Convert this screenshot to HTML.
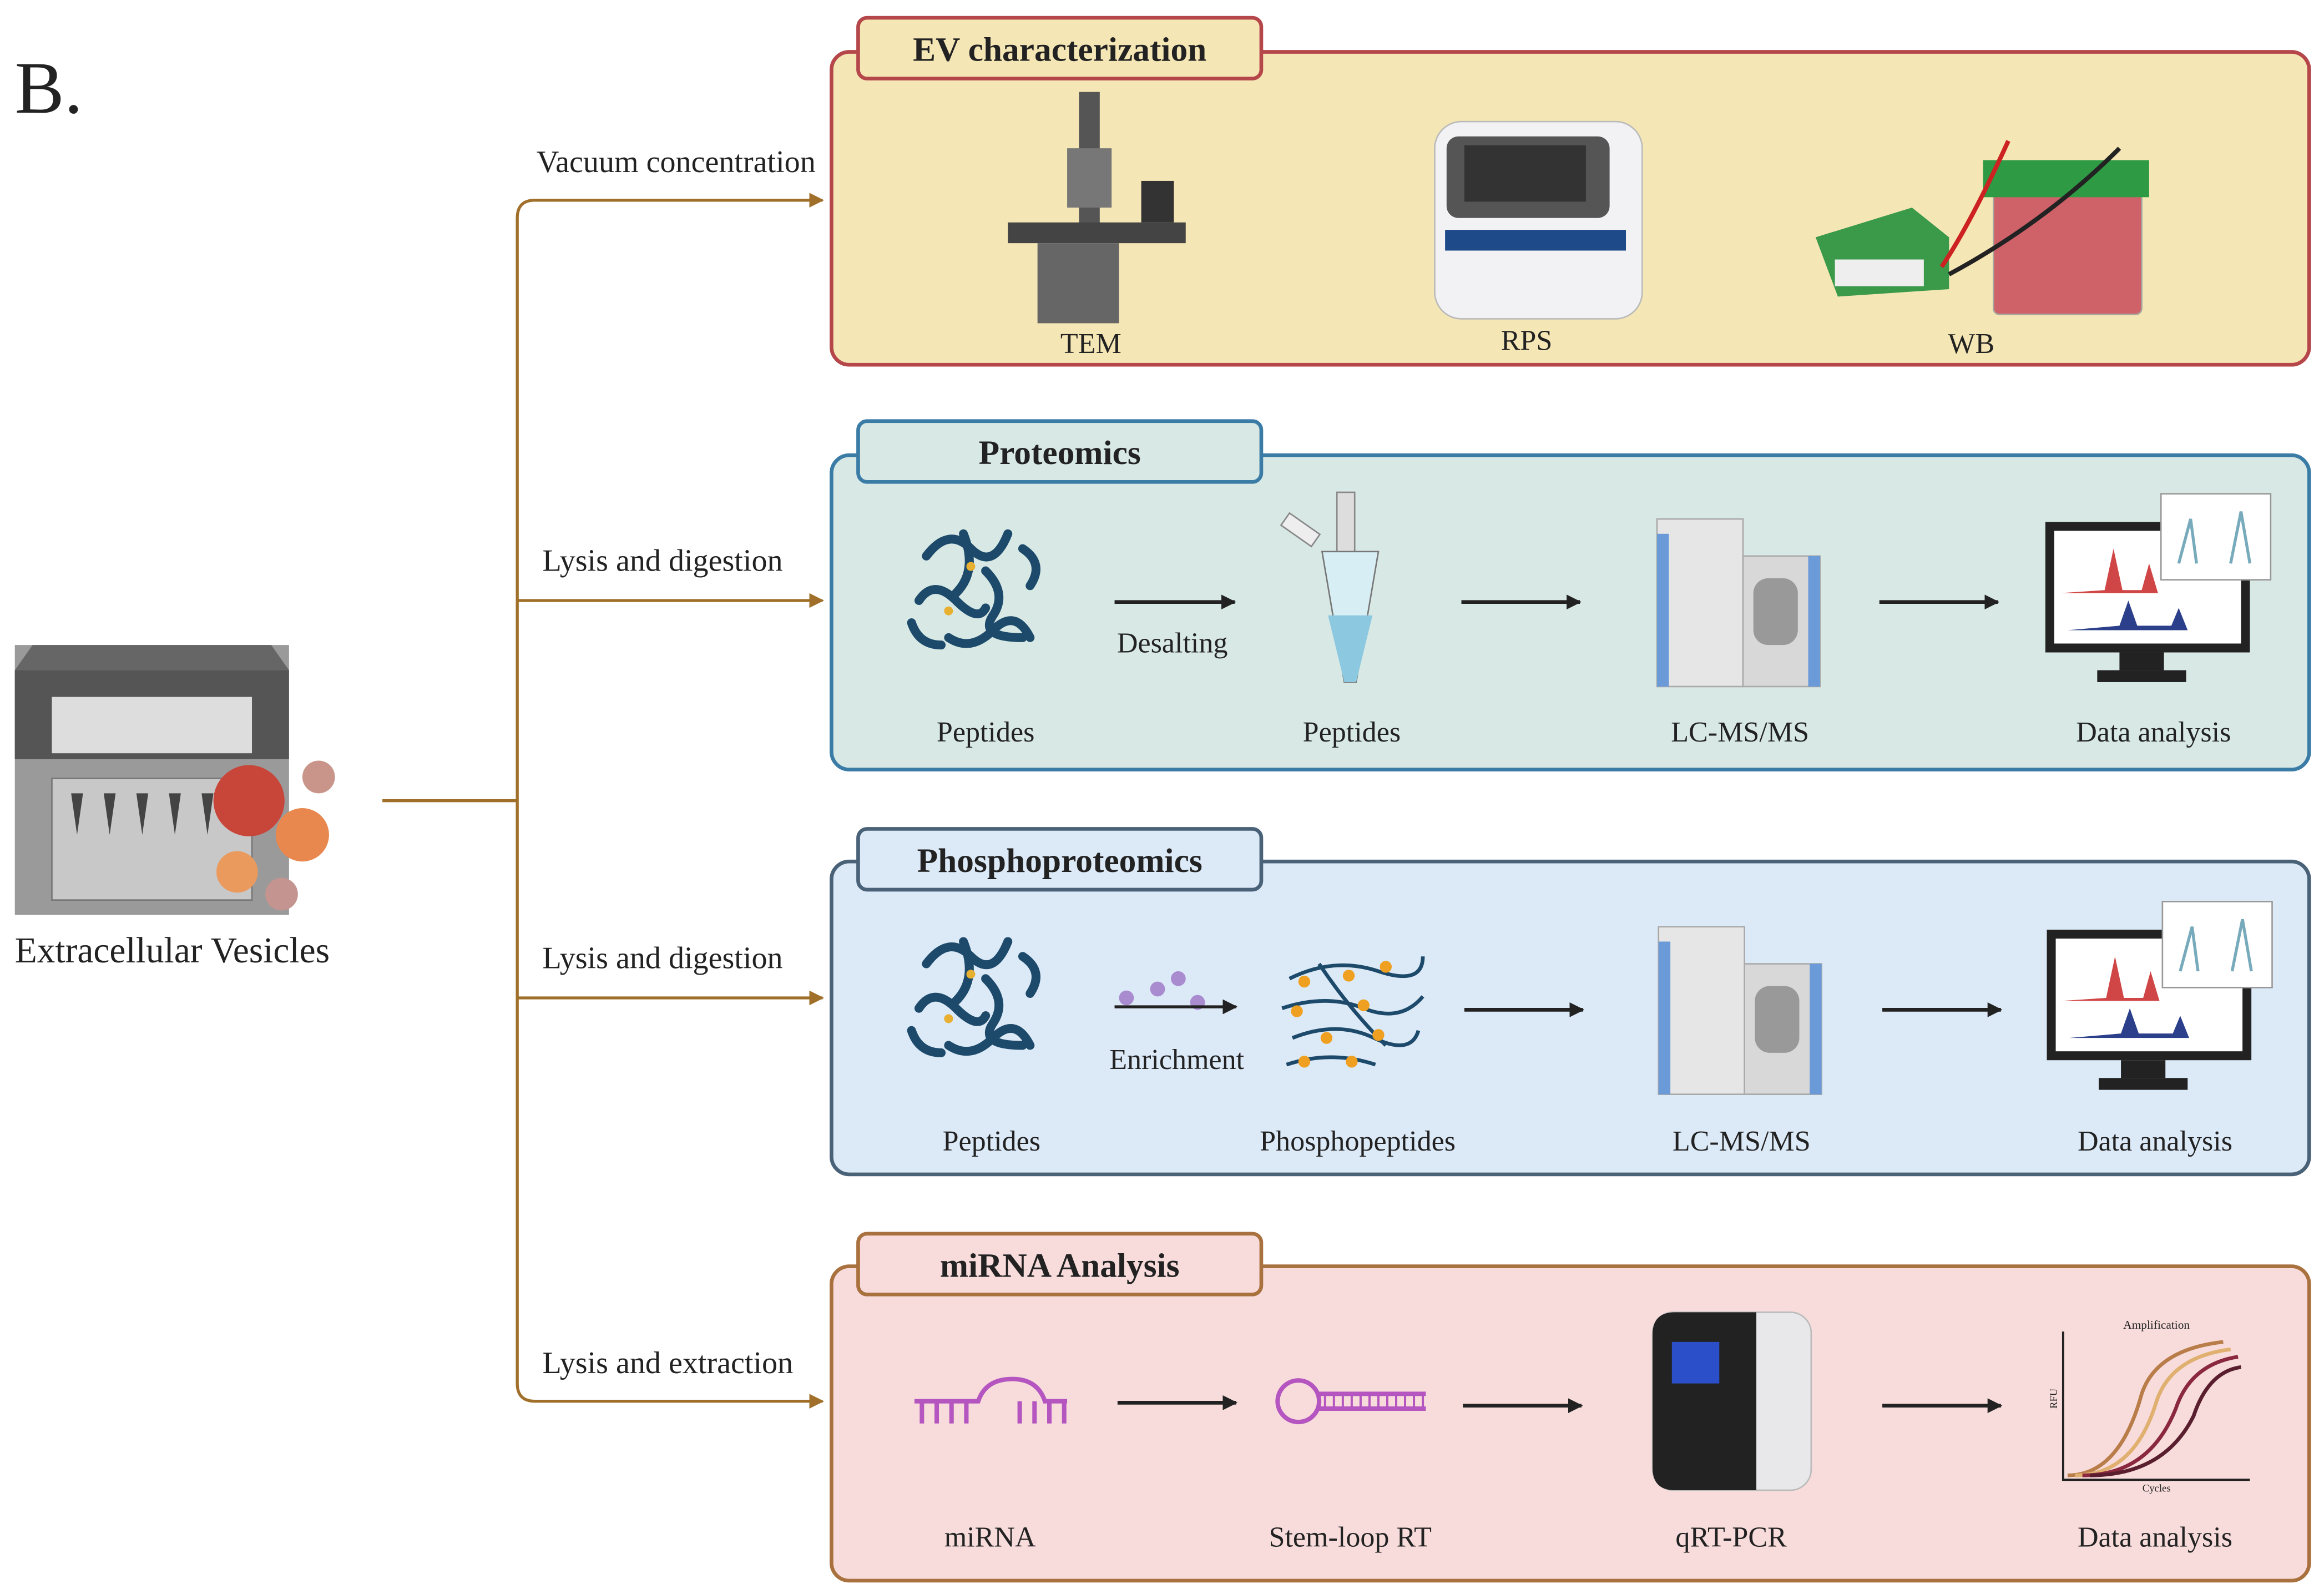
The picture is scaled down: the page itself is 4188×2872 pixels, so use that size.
<!DOCTYPE html>
<html><head><meta charset="utf-8"><style>
html,body{margin:0;padding:0;background:#fff;}
svg{display:block;}
text{font-family:"Liberation Serif",serif;fill:#222;}
</style></head><body>
<svg width="4188" height="2872" viewBox="0 0 1568 1075" preserveAspectRatio="none" xmlns="http://www.w3.org/2000/svg">
<defs>
<marker id="ab" markerWidth="10" markerHeight="10" refX="9" refY="5" orient="auto" markerUnits="userSpaceOnUse"><path d="M0,0 L10,5 L0,10 z" fill="#a0702a"/></marker>
<marker id="ak" markerWidth="10" markerHeight="10" refX="9" refY="5" orient="auto" markerUnits="userSpaceOnUse"><path d="M0,0 L10,5 L0,10 z" fill="#222"/></marker>
</defs>
<text x="10" y="76" font-size="50">B.</text>

<g stroke="#a0702a" stroke-width="2" fill="none">
<path d="M258,540 H349"/>
<path d="M555,135 H361 Q349,135 349,147 V933 Q349,945 361,945 H555" marker-end="url(#ab)"/>
<path d="M361,135 H555" marker-end="url(#ab)"/>
<path d="M349,405 H555" marker-end="url(#ab)"/>
<path d="M349,673 H555" marker-end="url(#ab)"/>
</g>
<g font-size="21">
<text x="362" y="116">Vacuum concentration</text>
<text x="366" y="385">Lysis and digestion</text>
<text x="366" y="653">Lysis and digestion</text>
<text x="366" y="926">Lysis and extraction</text>
</g>

<rect x="10" y="435" width="185" height="182" fill="#9a9a9a"/>
<path d="M10,452 L22,435 H183 L195,452 Z" fill="#666"/>
<rect x="10" y="452" width="185" height="60" fill="#555"/>
<rect x="35" y="470" width="135" height="38" fill="#ddd"/>
<rect x="35" y="525" width="135" height="82" fill="#c8c8c8" stroke="#777"/>
<g fill="#444"><path d="M48,535 l8,0 l-4,28z"/><path d="M70,535 l8,0 l-4,28z"/><path d="M92,535 l8,0 l-4,28z"/><path d="M114,535 l8,0 l-4,28z"/><path d="M136,535 l8,0 l-4,28z"/></g>
<circle cx="168" cy="540" r="24" fill="#c8453a"/>
<circle cx="204" cy="563" r="18" fill="#e8874e"/>
<circle cx="160" cy="588" r="14" fill="#eb9a5e"/>
<circle cx="215" cy="524" r="11" fill="#c9958a"/>
<circle cx="190" cy="603" r="11" fill="#c49490"/>
<text x="10" y="649" font-size="24.5">Extracellular Vesicles</text>

<rect x="561" y="35" width="997" height="211" rx="12" fill="#f5e6b5" stroke="#b5474b" stroke-width="2.5"/>
<rect x="579" y="12" width="272" height="41" rx="6" fill="#f5e6b5" stroke="#b5474b" stroke-width="2.5"/>
<text x="715" y="41" font-size="23" font-weight="bold" text-anchor="middle">EV characterization</text>

<rect x="561" y="307" width="997" height="212" rx="12" fill="#d8e9e5" stroke="#3b7ca6" stroke-width="2.5"/>
<rect x="579" y="284" width="272" height="41" rx="6" fill="#d8e9e5" stroke="#3b7ca6" stroke-width="2.5"/>
<text x="715" y="313" font-size="23" font-weight="bold" text-anchor="middle">Proteomics</text>

<rect x="561" y="581" width="997" height="211" rx="12" fill="#dce9f7" stroke="#4a6278" stroke-width="2.5"/>
<rect x="579" y="559" width="272" height="41" rx="6" fill="#dce9f7" stroke="#4a6278" stroke-width="2.5"/>
<text x="715" y="588" font-size="23" font-weight="bold" text-anchor="middle">Phosphoproteomics</text>

<rect x="561" y="854" width="997" height="212" rx="12" fill="#f8dcdc" stroke="#a9713e" stroke-width="2.5"/>
<rect x="579" y="832" width="272" height="41" rx="6" fill="#f8dcdc" stroke="#a9713e" stroke-width="2.5"/>
<text x="715" y="861" font-size="23" font-weight="bold" text-anchor="middle">miRNA Analysis</text>

<rect x="728" y="62" width="14" height="95" fill="#555"/>
<rect x="720" y="100" width="30" height="40" fill="#777"/>
<rect x="680" y="150" width="120" height="14" fill="#444"/>
<rect x="700" y="164" width="55" height="54" fill="#666"/>
<rect x="770" y="122" width="22" height="28" fill="#333"/>
<rect x="968" y="82" width="140" height="133" rx="18" fill="#f2f2f4" stroke="#bbb"/>
<rect x="976" y="92" width="110" height="55" rx="8" fill="#555"/>
<rect x="988" y="98" width="82" height="38" fill="#333"/>
<rect x="975" y="155" width="122" height="14" fill="#1f4a8a"/>
<path d="M1225,160 L1290,140 L1315,160 L1315,195 L1240,200 Z" fill="#3a9a4a"/>
<rect x="1238" y="175" width="60" height="18" fill="#eee"/>
<rect x="1345" y="130" width="100" height="82" rx="4" fill="#c94b5c" opacity="0.85" stroke="#999"/>
<rect x="1338" y="108" width="112" height="25" fill="#2e9a44"/>
<path d="M1310,180 Q1330,150 1355,95" stroke="#c22" stroke-width="3" fill="none"/>
<path d="M1315,185 Q1380,150 1430,100" stroke="#222" stroke-width="3" fill="none"/>
<g font-size="19.5" text-anchor="middle">
<text x="736" y="238">TEM</text><text x="1030" y="236">RPS</text><text x="1330" y="238">WB</text>
</g>

<g id="pep" stroke="#1d4a6a" stroke-width="6" fill="none" stroke-linecap="round">
<path d="M625,375 q15,-20 30,-5 t25,-10"/><path d="M620,405 q10,-15 25,0 t20,5"/>
<path d="M640,430 q15,10 30,-5 t25,5"/><path d="M665,385 q15,15 5,30 t20,15"/>
<path d="M690,370 q15,10 5,25"/><path d="M615,420 q5,15 20,15"/><path d="M650,360 q10,25 -5,40"/>
<circle cx="655" cy="382" r="3" fill="#e8b030" stroke="none"/><circle cx="640" cy="412" r="3" fill="#e8b030" stroke="none"/>
</g>
<use href="#pep" transform="translate(0,275)"/>

<rect x="902" y="332" width="12" height="40" fill="#ddd" stroke="#888"/>
<path d="M892,372 H930 L915,460 H907 Z" fill="#d8eef5" stroke="#777"/>
<path d="M896,415 H926 L915,460 H907 Z" fill="#8cc8e0"/>
<rect x="865" y="352" width="25" height="10" fill="#eee" stroke="#888" transform="rotate(35 877 357)"/>

<g id="lc">
<rect x="1118" y="350" width="58" height="113" fill="#e6e6e6" stroke="#aaa"/>
<rect x="1118" y="360" width="8" height="103" fill="#6a9ad8"/>
<rect x="1176" y="375" width="52" height="88" fill="#d8d8d8" stroke="#aaa"/>
<rect x="1220" y="375" width="8" height="88" fill="#6a9ad8"/>
<rect x="1183" y="390" width="30" height="45" rx="10" fill="#999"/>
</g>
<use href="#lc" transform="translate(1,275)"/>

<g id="mon">
<rect x="1380" y="352" width="138" height="88" fill="#222"/>
<rect x="1386" y="358" width="126" height="76" fill="#fff"/>
<path d="M1390,400 L1420,398 L1426,370 L1432,398 L1445,398 L1450,380 L1456,400 L1470,400 Z" fill="#d04545"/>
<path d="M1395,425 L1430,422 L1436,405 L1442,422 L1465,422 L1470,410 L1476,425 Z" fill="#2b3f8a"/>
<rect x="1430" y="440" width="30" height="12" fill="#222"/><rect x="1415" y="452" width="60" height="8" fill="#222"/>
<rect x="1458" y="333" width="74" height="58" fill="#fff" stroke="#999"/>
<path d="M1470,380 L1478,350 L1482,380 M1505,380 L1512,345 L1518,380" stroke="#7ab" stroke-width="2" fill="none"/>
</g>
<use href="#mon" transform="translate(1,275)"/>

<g stroke="#1d4a6a" stroke-width="2.5" fill="none">
<path d="M870,660 q30,-15 60,-5 t30,-10"/><path d="M865,680 q30,-10 55,0 t40,-8"/>
<path d="M872,700 q30,-12 55,0 t30,-5"/><path d="M868,718 q30,-10 60,0"/><path d="M890,650 q20,30 45,55"/>
</g>
<g fill="#f0a020"><circle cx="880" cy="662" r="4"/><circle cx="910" cy="658" r="4"/><circle cx="935" cy="652" r="4"/><circle cx="875" cy="682" r="4"/><circle cx="920" cy="678" r="4"/><circle cx="895" cy="700" r="4"/><circle cx="930" cy="698" r="4"/><circle cx="880" cy="716" r="4"/><circle cx="912" cy="716" r="4"/></g>
<g fill="#a98cd0"><circle cx="760" cy="673" r="5"/><circle cx="781" cy="667" r="5"/><circle cx="795" cy="660" r="5"/><circle cx="808" cy="676" r="5"/></g>

<g stroke="#b455c0" stroke-width="3" fill="none">
<path d="M617,945 H660 Q665,930 683,930 Q700,930 705,945 H720"/>
<path d="M622,945 v15 M632,945 v15 M642,945 v15 M652,945 v15 M688,945 v15 M698,945 v15 M708,945 v15 M718,945 v15"/>
<circle cx="876" cy="945" r="14"/>
<path d="M890,940 H962 M890,950 H962"/>
</g>
<path d="M894,940 v10 M900,940 v10 M906,940 v10 M912,940 v10 M918,940 v10 M924,940 v10 M930,940 v10 M936,940 v10 M942,940 v10 M948,940 v10 M954,940 v10 M960,940 v10" stroke="#b455c0" stroke-width="1.5"/>

<rect x="1115" y="885" width="107" height="120" rx="14" fill="#e8e8ea" stroke="#bbb"/>
<path d="M1115,900 Q1115,885 1130,885 H1185 V1005 H1130 Q1115,1005 1115,990 Z" fill="#222"/>
<rect x="1128" y="905" width="32" height="28" fill="#2b4fc8"/>

<path d="M1392,898 V998 H1518" stroke="#222" stroke-width="1.5" fill="none"/>
<g fill="none" stroke-width="2.5">
<path d="M1395,995 Q1430,995 1445,940 Q1455,910 1500,905" stroke="#b97d4a"/>
<path d="M1400,995 Q1440,995 1455,945 Q1465,915 1505,910" stroke="#e0b070"/>
<path d="M1405,995 Q1450,995 1468,950 Q1478,920 1510,915" stroke="#8a2840"/>
<path d="M1410,995 Q1460,995 1480,955 Q1490,925 1512,922" stroke="#5a1f2f"/>
</g>
<text x="1455" y="896" font-size="8" text-anchor="middle">Amplification</text>
<text x="1455" y="1006" font-size="7" text-anchor="middle">Cycles</text>
<text x="1388" y="950" font-size="7" transform="rotate(-90 1388 950)">RFU</text>

<g stroke="#222" stroke-width="2.5" marker-end="url(#ak)">
<path d="M752,406 H833"/><path d="M986,406 H1066"/><path d="M1268,406 H1348"/>
<path d="M752,679 H834" stroke-width="2"/><path d="M988,681 H1068"/><path d="M1270,681 H1350"/>
<path d="M754,946 H834"/><path d="M987,948 H1067"/><path d="M1270,948 H1350"/>
</g>

<g font-size="19.5" text-anchor="middle">
<text x="665" y="500">Peptides</text><text x="912" y="500">Peptides</text><text x="1174" y="500">LC-MS/MS</text><text x="1453" y="500">Data analysis</text>
<text x="791" y="440">Desalting</text>
<text x="669" y="776">Peptides</text><text x="916" y="776">Phosphopeptides</text><text x="1175" y="776">LC-MS/MS</text><text x="1454" y="776">Data analysis</text>
<text x="794" y="721">Enrichment</text>
<text x="668" y="1043">miRNA</text><text x="911" y="1043">Stem-loop RT</text><text x="1168" y="1043">qRT-PCR</text><text x="1454" y="1043">Data analysis</text>
</g>
</svg>
</body></html>
